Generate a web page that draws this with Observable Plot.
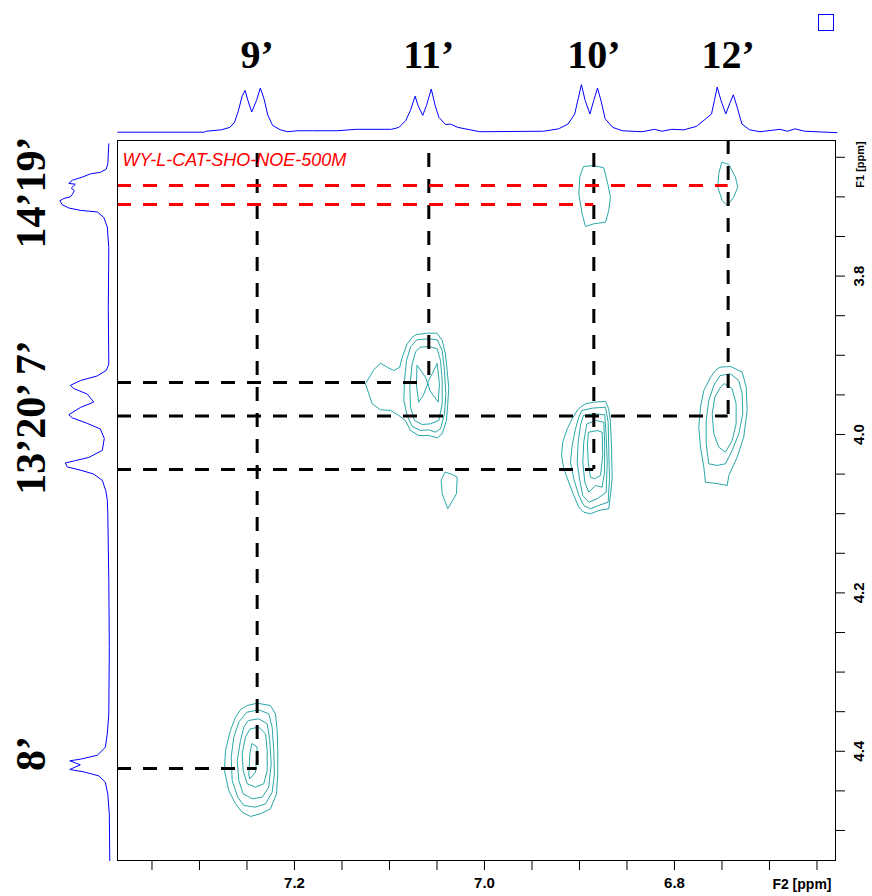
<!DOCTYPE html>
<html><head><meta charset="utf-8">
<script src="https://cdn.jsdelivr.net/npm/d3@7"></script>
<script src="https://cdn.jsdelivr.net/npm/@observablehq/plot@0.6"></script>
<style>
html,body{margin:0;padding:0;background:#fff;}
#wrap{position:relative;width:872px;height:896px;overflow:hidden;background:#fff;}
#wrap svg{position:absolute;left:0;top:0;}
#sq{position:absolute;left:818px;top:14px;width:14px;height:15px;border:1px solid #0000ff;}
</style></head><body><div id="wrap"><div id="sq"></div></div>
<script>
// ---- axes / domains (ppm) ----
const F2_DOMAIN = [7.3863, 6.6305];
const F1_DOMAIN = [4.5379, 3.6288];
const xTicks = [7.35,7.30,7.25,7.20,7.15,7.10,7.05,7.00,6.95,6.90,6.85,6.80,6.75,6.70,6.65];
const xLabels = [7.2, 7.0, 6.8];
const yTicks = [3.65,3.70,3.75,3.80,3.85,3.90,3.95,4.00,4.05,4.10,4.15,4.20,4.25,4.30,4.35,4.40,4.45,4.50];
const yLabels = [3.8, 4.0, 4.2, 4.4];
const redTitle = "WY-L-CAT-SHO-NOE-500M";

// ---- assignments ----
const topLabels = ["9\u2019", "11\u2019", "10\u2019", "12\u2019"];
const topLabelPos = [7.2393, 7.0586, 6.8849, 6.7435];
const leftLabels = ["14\u201919\u2019", "13\u201920\u2019 7\u2019", "8\u2019"];
const leftLabelPos = [3.6944, 3.9785, 4.4028];

// vertical dashed lines (F2 position, F1 from, F1 to)
const vLineF2 = [7.2393, 7.0586, 6.8849, 6.7435];
const vLineFrom = [3.6452, 3.6452, 3.6452, 3.6288];
const vLineTo = [4.4217, 3.9343, 4.0442, 3.9766];
// horizontal dashed lines (F1 position, F2 end)
const hBlackF1 = [3.9343, 3.9766, 4.0442, 4.4217];
const hBlackTo = [7.0586, 6.7435, 6.8849, 7.2393];
const hRedF1 = [3.6856, 3.7096];
const hRedTo = [6.7435, 6.8849];
const hLineFrom = 7.3863;

// ---- 1D projections ----
const topPpm = [7.386,7.295,7.293,7.277,7.268,7.263,7.259,7.255,7.252,7.249,7.245,7.240,7.236,7.232,7.228,7.223,7.215,7.207,7.197,7.181,7.155,7.135,7.098,7.090,7.083,7.078,7.073,7.070,7.065,7.061,7.056,7.052,7.048,7.041,7.036,7.028,7.015,7.005,6.938,6.922,6.912,6.905,6.901,6.898,6.894,6.889,6.885,6.881,6.877,6.873,6.865,6.855,6.834,6.821,6.813,6.803,6.790,6.777,6.767,6.761,6.758,6.755,6.751,6.746,6.742,6.738,6.734,6.729,6.721,6.710,6.689,6.681,6.673,6.663,6.629];
const topInt = [0,0,0.02,0.05,0.10,0.21,0.45,0.76,0.87,0.66,0.42,0.66,0.92,0.69,0.35,0.14,0.05,0.01,0.03,0.03,0.03,0.06,0.06,0.10,0.24,0.45,0.75,0.56,0.35,0.56,0.90,0.56,0.31,0.16,0.17,0.10,0.05,0.01,0.02,0.07,0.17,0.38,0.73,0.99,0.66,0.38,0.66,0.92,0.63,0.28,0.10,0.03,0.01,0.06,0.02,0.06,0.05,0.12,0.28,0.38,0.66,0.94,0.66,0.38,0.59,0.78,0.52,0.17,0.05,0.01,0.06,0.02,0.07,0.02,-0.01];
const leftPpm = [3.633,3.658,3.665,3.669,3.671,3.675,3.679,3.683,3.684,3.689,3.692,3.697,3.700,3.702,3.705,3.710,3.714,3.717,3.719,3.726,3.738,3.764,3.840,3.911,3.919,3.926,3.932,3.938,3.942,3.949,3.959,3.966,3.975,3.979,3.986,3.993,4.005,4.020,4.029,4.033,4.036,4.041,4.045,4.050,4.058,4.071,4.083,4.100,4.184,4.269,4.353,4.378,4.395,4.405,4.410,4.412,4.417,4.423,4.426,4.431,4.439,4.454,4.479,4.538];
const leftInt = [0,0.02,0.05,0.17,0.37,0.53,0.73,0.80,0.67,0.75,0.69,0.73,0.77,0.90,0.98,0.93,0.80,0.57,0.23,0.10,0.03,0,0.01,0,0.05,0.23,0.57,0.77,0.70,0.43,0.30,0.57,0.80,0.73,0.43,0.17,0.09,0.13,0.40,0.67,0.87,0.83,0.57,0.30,0.13,0.06,0.03,0.02,0,-0.01,0,0.03,0.07,0.23,0.57,0.78,0.57,0.78,0.50,0.20,0.07,0.02,-0.01,-0.02];

// ---- 2D contours [F2 ppm, F1 ppm] ----
const peak11_7_c1 = [[7.0708,3.8737],[7.0603,3.8721],[7.0498,3.8721],[7.0445,3.8813],[7.0411,3.8981],[7.0393,3.9192],[7.0376,3.9403],[7.0386,3.9612],[7.0400,3.9823],[7.0445,3.9991],[7.0498,4.0042],[7.0586,4.0013],[7.0692,4.0013],[7.0779,3.9950],[7.0832,3.9823],[7.0902,3.9760],[7.0989,3.9697],[7.1095,3.9688],[7.1182,3.9612],[7.1253,3.9360],[7.1165,3.9183],[7.1095,3.9100],[7.1024,3.9150],[7.0955,3.9192],[7.0892,3.9150],[7.0866,3.9024],[7.0814,3.8855],[7.0761,3.8772]];
const peak11_7_c2 = [[7.0708,3.8804],[7.0586,3.8792],[7.0498,3.8804],[7.0445,3.8939],[7.0421,3.9192],[7.0407,3.9486],[7.0421,3.9739],[7.0463,3.9928],[7.0516,3.9971],[7.0586,3.9941],[7.0674,3.9950],[7.0761,3.9899],[7.0814,3.9760],[7.0849,3.9571],[7.0842,3.9318],[7.0821,3.9066],[7.0779,3.8898]];
const peak11_7_c3 = [[7.0674,3.8898],[7.0586,3.8889],[7.0498,3.8918],[7.0463,3.9066],[7.0445,3.9318],[7.0445,3.9612],[7.0481,3.9823],[7.0568,3.9865],[7.0656,3.9874],[7.0737,3.9823],[7.0779,3.9655],[7.0786,3.9403],[7.0761,3.9107],[7.0726,3.8961]];
const peak11_7_c4 = [[7.0708,3.9129],[7.0621,3.9277],[7.0597,3.9360],[7.0645,3.9508],[7.0692,3.9592],[7.0716,3.9381]];
const peak11_7_c5 = [[7.0498,3.9107],[7.0474,3.9360],[7.0487,3.9592],[7.0576,3.9444],[7.0597,3.9340],[7.0551,3.9234]];
const peak11_13_c1 = [[7.0411,4.0476],[7.0340,4.0505],[7.0287,4.0539],[7.0295,4.0749],[7.0386,4.0938],[7.0445,4.0749],[7.0456,4.0581]];
const peak10_13_c1 = [[6.8989,3.9655],[6.8937,3.9612],[6.8849,3.9592],[6.8726,3.9583],[6.8692,3.9676],[6.8674,3.9845],[6.8663,4.0139],[6.8656,4.0559],[6.8674,4.0770],[6.8692,4.0938],[6.8797,4.0960],[6.8884,4.1001],[6.8955,4.0981],[6.9007,4.0918],[6.9060,4.0770],[6.9113,4.0602],[6.9165,4.0433],[6.9189,4.0265],[6.9176,4.0097],[6.9129,3.9928],[6.9077,3.9802],[6.9024,3.9697]];
const peak10_13_c2 = [[6.8972,3.9697],[6.8866,3.9668],[6.8726,3.9655],[6.8698,3.9845],[6.8692,4.0181],[6.8684,4.0559],[6.8698,4.0855],[6.8797,4.0896],[6.8884,4.0938],[6.8955,4.0896],[6.9007,4.0770],[6.9060,4.0559],[6.9095,4.0350],[6.9077,4.0139],[6.9042,3.9928],[6.9007,3.9782]];
const peak10_13_c3 = [[6.8955,3.9760],[6.8849,3.9739],[6.8734,3.9751],[6.8719,4.0013],[6.8708,4.0350],[6.8719,4.0729],[6.8814,4.0812],[6.8902,4.0855],[6.8965,4.0770],[6.9000,4.0559],[6.9024,4.0350],[6.9014,4.0097],[6.8989,3.9886]];
const peak10_13_c4 = [[6.8919,3.9865],[6.8832,3.9823],[6.8744,3.9845],[6.8734,4.0139],[6.8737,4.0476],[6.8761,4.0665],[6.8832,4.0644],[6.8902,4.0729],[6.8944,4.0602],[6.8965,4.0350],[6.8955,4.0097]];
const peak10_13_c5 = [[6.8902,3.9971],[6.8814,3.9950],[6.8761,3.9971],[6.8755,4.0265],[6.8779,4.0518],[6.8839,4.0559],[6.8884,4.0539],[6.8908,4.0350],[6.8916,4.0139]];
const peak12_20_c1 = [[6.7516,3.9150],[6.7411,3.9141],[6.7287,3.9213],[6.7245,3.9403],[6.7235,3.9697],[6.7271,4.0034],[6.7340,4.0287],[6.7428,4.0518],[6.7445,4.0644],[6.7534,4.0623],[6.7674,4.0602],[6.7691,4.0413],[6.7726,4.0160],[6.7744,3.9908],[6.7726,3.9655],[6.7691,3.9444],[6.7621,3.9277],[6.7568,3.9192]];
const peak12_20_c2 = [[6.7516,3.9255],[6.7411,3.9234],[6.7323,3.9318],[6.7287,3.9486],[6.7281,3.9739],[6.7323,3.9991],[6.7393,4.0202],[6.7463,4.0370],[6.7551,4.0391],[6.7639,4.0370],[6.7666,4.0117],[6.7666,3.9823],[6.7639,3.9571],[6.7586,3.9381]];
const peak12_20_c3 = [[6.7471,3.9360],[6.7393,3.9423],[6.7351,3.9612],[6.7351,3.9865],[6.7393,4.0076],[6.7463,4.0223],[6.7534,4.0160],[6.7586,3.9991],[6.7603,3.9739],[6.7576,3.9529],[6.7516,3.9403]];
const peak10_19_c1 = [[6.8955,3.6616],[6.8849,3.6604],[6.8744,3.6633],[6.8702,3.6835],[6.8674,3.7004],[6.8692,3.7172],[6.8726,3.7319],[6.8849,3.7340],[6.8937,3.7374],[6.8972,3.7213],[6.9007,3.6961],[6.8997,3.6751]];
const peak12_14_c1 = [[6.7498,3.6562],[6.7428,3.6591],[6.7358,3.6751],[6.7334,3.6877],[6.7376,3.7004],[6.7445,3.7109],[6.7498,3.7045],[6.7544,3.6877],[6.7534,3.6708]];
const peak9_8_c1 = [[7.2498,4.3422],[7.2393,4.3393],[7.2253,4.3422],[7.2200,4.3527],[7.2182,4.3737],[7.2176,4.3990],[7.2176,4.4284],[7.2189,4.4537],[7.2253,4.4726],[7.2358,4.4789],[7.2463,4.4823],[7.2551,4.4769],[7.2621,4.4663],[7.2692,4.4495],[7.2737,4.4242],[7.2726,4.3990],[7.2674,4.3737],[7.2621,4.3569],[7.2568,4.3476]];
const peak9_8_c2 = [[7.2498,4.3506],[7.2376,4.3476],[7.2271,4.3527],[7.2235,4.3696],[7.2218,4.3990],[7.2211,4.4284],[7.2235,4.4516],[7.2305,4.4663],[7.2411,4.4706],[7.2534,4.4684],[7.2597,4.4579],[7.2656,4.4369],[7.2666,4.4074],[7.2639,4.3822],[7.2586,4.3633]];
const peak9_8_c3 = [[7.2481,4.3611],[7.2376,4.3590],[7.2287,4.3653],[7.2260,4.3864],[7.2245,4.4158],[7.2271,4.4453],[7.2340,4.4579],[7.2445,4.4600],[7.2540,4.4537],[7.2586,4.4369],[7.2603,4.4116],[7.2568,4.3864],[7.2534,4.3696]];
const peak9_8_c4 = [[7.2463,4.3716],[7.2376,4.3696],[7.2305,4.3779],[7.2287,4.3990],[7.2287,4.4242],[7.2323,4.4410],[7.2411,4.4453],[7.2498,4.4410],[7.2540,4.4242],[7.2551,4.4032],[7.2516,4.3822]];
const peak9_8_c5 = [[7.2445,4.3905],[7.2393,4.3948],[7.2400,4.4116],[7.2411,4.4264],[7.2470,4.4347],[7.2481,4.4301],[7.2470,4.4032]];

const contourList = [peak11_7_c1,peak11_7_c2,peak11_7_c3,peak11_7_c4,peak11_7_c5,peak11_13_c1,
  peak10_13_c1,peak10_13_c2,peak10_13_c3,peak10_13_c4,peak10_13_c5,
  peak12_20_c1,peak12_20_c2,peak12_20_c3,peak10_19_c1,peak12_14_c1,
  peak9_8_c1,peak9_8_c2,peak9_8_c3,peak9_8_c4,peak9_8_c5];

// ---- tables ----
const contourRows = contourList.flatMap((c, id) => c.map(([f2, f1]) => ({id, f2, f1})));
const vRows = vLineF2.map((f2, i) => ({f2, a: vLineFrom[i], b: vLineTo[i]}));
const hBlackRows = hBlackF1.map((f1, i) => ({f1, a: hLineFrom, b: hBlackTo[i]}));
const hRedRows = hRedF1.map((f1, i) => ({f1, a: hLineFrom, b: hRedTo[i]}));
const topRows = topPpm.map((ppm, i) => ({ppm, i: topInt[i]}));
const leftRows = leftPpm.map((ppm, i) => ({ppm, i: leftInt[i]}));

const SANS = "Liberation Sans, Arial, sans-serif";
const SERIF = "Liberation Serif, Times New Roman, serif";
const DASH = "14,12";
const CONTOUR = "#2aa8a8";

const mainPlot = Plot.plot({
  width: 872, height: 896,
  marginLeft: 117, marginRight: 37, marginTop: 140, marginBottom: 36,
  x: {domain: F2_DOMAIN},
  y: {domain: F1_DOMAIN},
  style: {background: "transparent", fontFamily: SANS, overflow: "visible", color: "black"},
  marks: [
    Plot.line(contourRows, {x: "f2", y: "f1", z: "id", curve: "linear-closed", stroke: CONTOUR, strokeWidth: 1}),
    Plot.ruleX(vRows, {x: "f2", y1: "a", y2: "b", stroke: "black", strokeWidth: 3, strokeDasharray: DASH}),
    Plot.ruleY(hBlackRows, {y: "f1", x1: "a", x2: "b", stroke: "black", strokeWidth: 3, strokeDasharray: DASH}),
    Plot.ruleY(hRedRows, {y: "f1", x1: "a", x2: "b", stroke: "#ff0000", strokeWidth: 3, strokeDasharray: DASH}),
    Plot.frame({stroke: "black"}),
    Plot.axisX(xTicks, {anchor: "bottom", tickSize: 10, tickFormat: () => "", label: null}),
    Plot.axisX(xLabels, {anchor: "bottom", tickSize: 10, tickPadding: 7, tickFormat: d => d.toFixed(1), fontSize: 15, fontWeight: "bold", label: null}),
    Plot.axisY(yTicks, {anchor: "right", tickSize: 9, tickFormat: () => "", label: null}),
    Plot.text(yLabels, {y: d => d, text: d => d.toFixed(1), frameAnchor: "right", dx: 28, rotate: -90, textAnchor: "middle", lineAnchor: "bottom", fontSize: 15, fontWeight: "bold"}),
    Plot.text(["F1 [ppm]"], {text: d => d, frameAnchor: "top-right", dx: 28, dy: 24, rotate: -90, textAnchor: "middle", lineAnchor: "bottom", fontSize: 11, fontWeight: "bold"}),
    Plot.text(["F2 [ppm]"], {text: d => d, frameAnchor: "bottom-right", dx: -4, dy: 28, textAnchor: "end", lineAnchor: "bottom", fontSize: 14, fontWeight: "bold"}),
    Plot.text([redTitle], {text: d => d, frameAnchor: "top-left", dx: 5, dy: 25, textAnchor: "start", lineAnchor: "bottom", fill: "#ff0000", fontStyle: "italic", fontSize: 18})
  ]
});

const topPlot = Plot.plot({
  width: 872, height: 140,
  marginLeft: 117, marginRight: 37, marginTop: 0, marginBottom: 0,
  x: {domain: F2_DOMAIN, axis: null},
  y: {domain: [0, 1], range: [131.7, 83.7], axis: null},
  style: {background: "transparent", overflow: "visible"},
  marks: [
    Plot.line(topRows, {x: "ppm", y: "i", stroke: "#0000ff", strokeWidth: 1}),
    Plot.text(topLabels, {x: (d, i) => topLabelPos[i], text: d => d, frameAnchor: "top", dy: 67, textAnchor: "middle", lineAnchor: "bottom", fontFamily: SERIF, fontWeight: "bold", fontSize: 40, fill: "black"})
  ]
});

const leftPlot = Plot.plot({
  width: 117, height: 896,
  marginLeft: 0, marginRight: 0, marginTop: 140, marginBottom: 36,
  x: {domain: [0, 1], range: [108.3, 58.3], axis: null},
  y: {domain: F1_DOMAIN, axis: null},
  style: {background: "transparent", overflow: "visible"},
  marks: [
    Plot.line(leftRows, {x: "i", y: "ppm", stroke: "#0000ff", strokeWidth: 1}),
    Plot.text(leftLabels, {y: (d, i) => leftLabelPos[i], text: d => d, frameAnchor: "left", dx: 44, rotate: -90, textAnchor: "middle", lineAnchor: "bottom", fontFamily: SERIF, fontWeight: "bold", fontSize: 42, fill: "black"})
  ]
});

const wrap = document.getElementById("wrap");
wrap.appendChild(mainPlot);
wrap.appendChild(topPlot);
wrap.appendChild(leftPlot);
</script></body></html>
